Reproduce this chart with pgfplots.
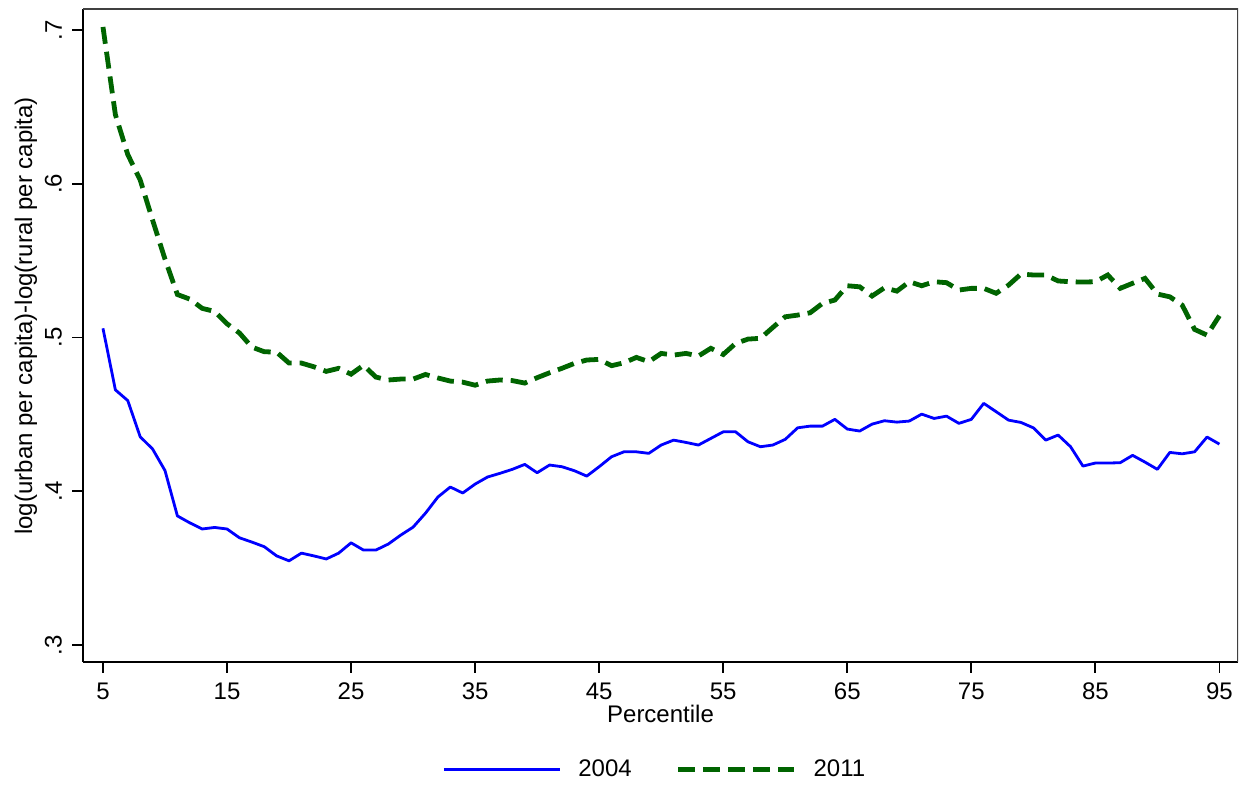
\documentclass[border=0pt]{standalone}
\usepackage{fontspec}
\setmainfont{Liberation Sans}
\usepackage{pgfplots}
\pgfplotsset{compat=1.18}
\usepackage{pgfplotstable}
\definecolor{sblue}{RGB}{0,0,255}
\definecolor{sgreen}{RGB}{0,100,0}
\pgfplotstableread{
p v
5 0.506
6 0.466
7 0.459
8 0.4355
9 0.4275
10 0.4135
11 0.384
12 0.3795
13 0.3755
14 0.3765
15 0.3755
16 0.3698
17 0.367
18 0.364
19 0.358
20 0.3548
21 0.3598
22 0.358
23 0.356
24 0.3598
25 0.3665
26 0.3618
27 0.3618
28 0.3657
29 0.3715
30 0.3767
31 0.3858
32 0.3963
33 0.4028
34 0.3989
35 0.4047
36 0.4093
37 0.4117
38 0.4143
39 0.4175
40 0.4121
41 0.4171
42 0.416
43 0.4134
44 0.4099
45 0.416
46 0.4225
47 0.4257
48 0.4257
49 0.4247
50 0.4301
51 0.4333
52 0.4318
53 0.4301
54 0.4344
55 0.4387
56 0.4387
57 0.4322
58 0.429
59 0.4301
60 0.4338
61 0.4413
62 0.4424
63 0.4424
64 0.4468
65 0.4405
66 0.4392
67 0.4437
68 0.4459
69 0.445
70 0.4457
71 0.4502
72 0.4474
73 0.4489
74 0.4442
75 0.4468
76 0.4572
77 0.4518
78 0.4463
79 0.4448
80 0.4413
81 0.4333
82 0.4366
83 0.429
84 0.4164
85 0.4184
86 0.4184
87 0.4186
88 0.4234
89 0.419
90 0.4143
91 0.4253
92 0.4244
93 0.4257
94 0.4353
95 0.4307
}\tabA
\pgfplotstableread{
p v
5 0.702
6 0.645
7 0.619
8 0.6025
9 0.5764
10 0.551
11 0.528
12 0.5250
13 0.519
14 0.517
15 0.509
16 0.503
17 0.4938
18 0.4908
19 0.4905
20 0.4834
21 0.4834
22 0.481
23 0.478
24 0.480
25 0.4762
26 0.482
27 0.4743
28 0.4724
29 0.473
30 0.473
31 0.476
32 0.4737
33 0.4717
34 0.471
35 0.469
36 0.4717
37 0.4724
38 0.472
39 0.4704
40 0.4739
41 0.4771
42 0.480
43 0.4832
44 0.4854
45 0.4858
46 0.4817
47 0.4836
48 0.4871
49 0.4843
50 0.4897
51 0.4886
52 0.4897
53 0.488
54 0.493
55 0.489
56 0.4962
57 0.499
58 0.4995
59 0.5066
60 0.5135
61 0.5146
62 0.5161
63 0.5222
64 0.5244
65 0.5337
66 0.533
67 0.527
68 0.5324
69 0.5302
70 0.5363
71 0.5337
72 0.5363
73 0.5357
74 0.5309
75 0.532
76 0.532
77 0.5288
78 0.5341
79 0.5413
80 0.5407
81 0.5407
82 0.5368
83 0.5363
84 0.5361
85 0.5363
86 0.5407
87 0.532
88 0.5353
89 0.5385
90 0.5283
91 0.5265
92 0.5211
93 0.5053
94 0.5016
95 0.5142
}\tabB
\begin{document}
\begin{tikzpicture}
\useasboundingbox (0,0) rectangle (622.5pt,392.5pt);
\begin{axis}[
  at={(41.5pt,61.5pt)}, anchor=south west,
  scale only axis, width=577.5pt, height=326.5pt,
  xmin=3.39, xmax=96.5, ymin=0.289, ymax=0.7137,
  axis x line*=bottom, axis y line*=left,
  axis line style={-, line width=1.4pt, black},
  tick align=outside, major tick length=5.5pt,
  tick style={black, line width=0.9pt},
  xtick={5,15,25,35,45,55,65,75,85,95},
  xticklabels={5,15,25,35,45,55,65,75,85,95},
  ytick={0.3,0.4,0.5,0.6,0.7},
  yticklabels={.3,.4,.5,.6,.7},
  tick label style={font=\fontsize{12}{14.4}\selectfont},
  label style={font=\fontsize{12}{14.4}\selectfont},
  yticklabel style={rotate=90, anchor=south, yshift=1.5pt},
  xticklabel style={yshift=-1.5pt},
  xlabel={Percentile},
  ylabel={log(urban per capita)-log(rural per capita)},
  xlabel style={at={(axis description cs:0.5,-0.0796)}, anchor=center},
  ylabel style={at={(axis description cs:-0.0494,0.53)}, anchor=center},
  legend columns=2,
  legend style={at={(axis description cs:0.496,-0.165)}, anchor=center, draw=none, fill=none,
    font=\fontsize{12}{14.4}\selectfont,
    /tikz/every odd column/.append style={column sep=6.5pt},
    /tikz/every even column/.append style={column sep=20pt}},
  legend image code/.code={\draw[#1] (0pt,0pt) -- (58pt,0pt);},
]
\addplot[sblue, line width=1.4pt, no marks, line join=round] table[x=p,y=v] {\tabA};
\addlegendentry{2004}
\addplot[sgreen, line width=2.4pt, no marks, dash pattern=on 8.5pt off 4pt] table[x=p,y=v] {\tabB};
\addlegendentry{2011}
\draw[line width=1pt, black!75] (rel axis cs:0,1) -- (rel axis cs:1,1) -- (rel axis cs:1,0);
\end{axis}
\end{tikzpicture}
\end{document}
